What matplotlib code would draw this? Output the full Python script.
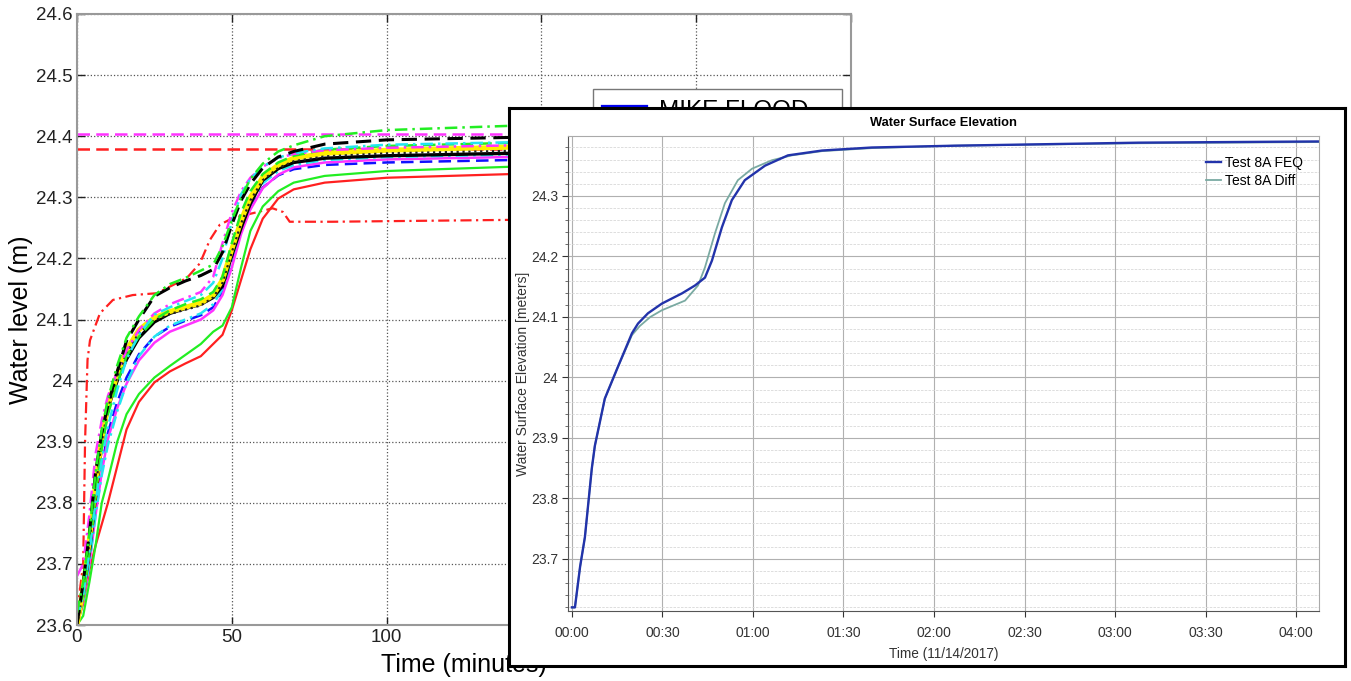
import matplotlib
matplotlib.use("Agg")
import matplotlib.pyplot as plt
from matplotlib.lines import Line2D
from matplotlib.ticker import MultipleLocator, FuncFormatter

plt.rcParams['font.family'] = ['Liberation Sans', 'DejaVu Sans']

# ---- main chart data (minutes, water level m) ----
t = [0, 2, 4, 6, 8, 10, 13, 16, 20, 25, 30, 35, 40, 44, 47, 50, 53, 56, 60, 65, 70, 80, 100, 140, 200, 250]

green_dd = [23.62, 23.67, 23.75, 23.85, 23.92, 23.97, 24.025, 24.07, 24.105, 24.14, 24.158, 24.168, 24.18, 24.19, 24.22, 24.262,
            24.30, 24.33, 24.355, 24.375, 24.385, 24.40, 24.41, 24.417, 24.42, 24.42]
black_dash = [23.60, 23.67, 23.75, 23.85, 23.915, 23.96, 24.015, 24.065, 24.10, 24.138, 24.152, 24.163, 24.172, 24.182, 24.21, 24.255,
              24.295, 24.322, 24.348, 24.366, 24.375, 24.387, 24.394, 24.398, 24.40, 24.401]
cyan_dd = [23.61, 23.65, 23.72, 23.80, 23.87, 23.925, 23.985, 24.035, 24.075, 24.108, 24.12, 24.13, 24.14, 24.16, 24.20, 24.26,
           24.305, 24.33, 24.35, 24.365, 24.372, 24.38, 24.386, 24.39, 24.391, 24.392]
green_dash = [23.61, 23.65, 23.72, 23.82, 23.89, 23.945, 23.995, 24.04, 24.072, 24.10, 24.115, 24.125, 24.133, 24.145, 24.17, 24.225,
              24.275, 24.31, 24.338, 24.357, 24.368, 24.378, 24.384, 24.389, 24.39, 24.39]
magenta_dd = [23.68, 23.70, 23.78, 23.88, 23.935, 23.975, 24.015, 24.05, 24.083, 24.11, 24.125, 24.135, 24.145, 24.17, 24.225, 24.275,
              24.31, 24.332, 24.35, 24.364, 24.371, 24.377, 24.381, 24.385, 24.386, 24.386]
yellow = [23.60, 23.66, 23.74, 23.83, 23.905, 23.96, 24.01, 24.05, 24.083, 24.103, 24.113, 24.12, 24.127, 24.14, 24.165, 24.215,
          24.262, 24.30, 24.333, 24.353, 24.364, 24.372, 24.377, 24.382, 24.383, 24.383]
black_dot = [23.60, 23.655, 23.735, 23.825, 23.90, 23.955, 24.005, 24.045, 24.078, 24.099, 24.109, 24.116, 24.123, 24.136, 24.16, 24.21,
             24.257, 24.295, 24.328, 24.348, 24.359, 24.367, 24.372, 24.376, 24.377, 24.377]
black_solid = [23.60, 23.65, 23.72, 23.81, 23.895, 23.955, 24.0, 24.035, 24.07, 24.096, 24.11, 24.118, 24.125, 24.136, 24.155, 24.205,
               24.25, 24.29, 24.328, 24.347, 24.357, 24.364, 24.368, 24.372, 24.374, 24.375]
cyan_dot = [23.60, 23.64, 23.70, 23.78, 23.845, 23.895, 23.95, 23.995, 24.04, 24.072, 24.09, 24.10, 24.11, 24.125, 24.15, 24.20,
            24.25, 24.29, 24.323, 24.343, 24.353, 24.361, 24.366, 24.37, 24.371, 24.371]
magenta_solid = [23.60, 23.64, 23.70, 23.78, 23.85, 23.905, 23.955, 23.995, 24.033, 24.062, 24.08, 24.09, 24.10, 24.115, 24.14, 24.185,
                 24.24, 24.28, 24.315, 24.337, 24.349, 24.357, 24.362, 24.366, 24.367, 24.367]
blue_dash = [23.61, 23.65, 23.71, 23.79, 23.86, 23.915, 23.965, 24.005, 24.043, 24.072, 24.088, 24.098, 24.107, 24.12, 24.145, 24.195,
             24.245, 24.283, 24.316, 24.336, 24.346, 24.353, 24.357, 24.361, 24.362, 24.362]
green_solid = [23.60, 23.615, 23.67, 23.73, 23.80, 23.838, 23.90, 23.945, 23.978, 24.005, 24.024, 24.042, 24.06, 24.08, 24.09, 24.12,
               24.185, 24.245, 24.285, 24.31, 24.324, 24.335, 24.343, 24.35, 24.351, 24.351]
red_solid = [23.60, 23.635, 23.69, 23.73, 23.765, 23.80, 23.86, 23.92, 23.965, 23.997, 24.015, 24.028, 24.04, 24.06, 24.075, 24.115,
             24.165, 24.215, 24.265, 24.298, 24.313, 24.324, 24.332, 24.338, 24.339, 24.339]

red_dd_t = [0, 1, 2, 2.6, 3.4, 4.2, 7.4, 11.6, 18, 25.8, 35.5, 39.7, 42.9, 46.1, 50.3, 56.8, 63.2, 66.5, 68.7, 82.6, 139, 250]
red_dd = [23.62, 23.66, 23.70, 23.90, 24.034, 24.066, 24.11, 24.132, 24.14, 24.143, 24.168, 24.192, 24.23, 24.255, 24.266,
          24.274, 24.282, 24.276, 24.26, 24.26, 24.263, 24.263]

magenta_ref = 24.404
red_ref = 24.379

# ---- inset data (minutes from 00:00, meters) ----
feq_t = [0, 1, 2.7, 4.3, 6.6, 7.6, 10.9, 15.2, 19.9, 21.9, 25.2, 29.8, 36.5, 40.8, 44.1, 46.4, 49.7, 53.0, 57.3, 64.0,
         71.6, 82.9, 99.4, 127, 188, 247.6]
feq_v = [23.62, 23.62, 23.687, 23.736, 23.85, 23.887, 23.965, 24.017, 24.073, 24.089, 24.106, 24.122, 24.139, 24.152,
         24.165, 24.193, 24.248, 24.293, 24.326, 24.350, 24.367, 24.375, 24.380, 24.383, 24.388, 24.390]
diff_t = [0, 1, 2.7, 4.3, 6.6, 7.6, 10.9, 15.2, 19.9, 22.5, 26, 29.8, 37.5, 41.8, 44.1, 47.4, 50.7, 55.0, 59.7, 66.3,
          72.9, 82.9, 99.4, 127, 188, 247.6]
diff_v = [23.62, 23.62, 23.687, 23.736, 23.85, 23.887, 23.965, 24.017, 24.07, 24.085, 24.1, 24.111, 24.127, 24.152,
          24.182, 24.238, 24.288, 24.326, 24.345, 24.359, 24.367, 24.374, 24.379, 24.383, 24.387, 24.389]

W, H = 1351, 681
fig = plt.figure(figsize=(W / 100, H / 100), dpi=100)

# ---- main MATLAB-style chart ----
ax = fig.add_axes([77 / W, 1 - 625 / H, 774 / W, 611 / H])
dash = (0, (5, 2.5))
dashdot = (0, (5, 2, 1, 2))
ax.axhline(magenta_ref, color='#ff33ff', lw=1.8, ls=dash)
ax.axhline(red_ref, color='#ff2020', lw=1.8, ls=dash)
ax.plot(red_dd_t, red_dd, color='#ff2020', lw=1.6, ls=dashdot)
ax.plot(t, red_solid, color='#ff2020', lw=1.6)
ax.plot(t, green_solid, color='#22ee22', lw=1.6)
ax.plot(t, blue_dash, color='#1010ff', lw=1.8, ls=dash)
ax.plot(t, magenta_solid, color='#ff33ff', lw=1.8)
ax.plot(t, cyan_dot, color='#22e5f0', lw=1.8, ls=dashdot)
ax.plot(t, black_solid, color='black', lw=2.4)
ax.plot(t, yellow, color='#ffee00', lw=3.6)
ax.plot(t, black_dot, color='#222222', lw=1.6, ls=':')
ax.plot(t, green_dash, color='#22ee22', lw=1.8, ls=dash)
ax.plot(t, magenta_dd, color='#ff33ff', lw=1.8, ls=dashdot)
ax.plot(t, cyan_dd, color='#22e5f0', lw=1.8, ls=dashdot)
ax.plot(t, black_dash, color='black', lw=2.2, ls=dash)
ax.plot(t, green_dd, color='#22ee22', lw=1.8, ls=dashdot)

ax.set_xlim(0, 250)
ax.set_ylim(23.6, 24.6)
ax.xaxis.set_major_locator(MultipleLocator(50))
ax.yaxis.set_major_locator(MultipleLocator(0.1))
ax.yaxis.set_major_formatter(FuncFormatter(lambda v, p: f"{round(v, 1):g}"))
ax.grid(True, ls=':', color='#555555', lw=0.9)
ax.tick_params(direction='in', top=True, right=True, length=6, width=1, labelsize=13.5, colors='#222222', pad=3)
for s in ax.spines.values():
    s.set_color('#999999')
    s.set_linewidth(1.5)
ax.set_xlabel('Time (minutes)', fontsize=18, labelpad=5)
ax.set_ylabel('Water level (m)', fontsize=18, labelpad=2)

leg_handle = Line2D([], [], color='#0000ee', lw=4.5)
ax.legend([leg_handle], ['MIKE FLOOD'], loc='upper left',
          bbox_to_anchor=(593 / W, 0.5, 249 / W, 1 - 89 / H - 0.5), mode='expand',
          bbox_transform=fig.transFigure, fontsize=17.5, fancybox=False, edgecolor='#777777',
          framealpha=1, handlelength=1.7, handletextpad=0.55, borderpad=0.45, borderaxespad=0)

# ---- inset: framed screenshot of second chart ----
box = fig.add_axes([509 / W, 1 - 666 / H, 836 / W, 558 / H], facecolor='white')
box.set_xticks([])
box.set_yticks([])
for s in box.spines.values():
    s.set_color('black')
    s.set_linewidth(2.2)

ins = fig.add_axes([568 / W, 1 - 611 / H, 751 / W, 475 / H], facecolor='white')
ins.plot(diff_t, diff_v, color='#7aaaa2', lw=1.3, label='Test 8A Diff')
ins.plot(feq_t, feq_v, color='#2233aa', lw=1.7, label='Test 8A FEQ')
ins.set_xlim(-1.3, 247.6)
ins.set_ylim(23.614, 24.399)
ins.xaxis.set_major_locator(MultipleLocator(30))
ins.xaxis.set_major_formatter(FuncFormatter(lambda m, p: f"{int(m // 60):02d}:{int(round(m % 60)):02d}"))
ins.yaxis.set_major_locator(MultipleLocator(0.1))
ins.yaxis.set_minor_locator(MultipleLocator(0.02))
ins.yaxis.set_major_formatter(FuncFormatter(lambda v, p: f"{round(v, 1):g}"))
ins.grid(True, which='major', color='#b0b0b0', lw=0.8)
ins.grid(True, which='minor', axis='y', color='#d8d8d8', lw=0.6, ls=(0, (3, 1.5)))
ins.tick_params(which='major', length=4, width=0.8, labelsize=10, colors='#333333', pad=7)
ins.tick_params(axis='y', which='major', pad=3)
ins.tick_params(which='minor', length=2.5, width=0.6, colors='#555555')
ins.spines['left'].set_color('#555555')
ins.spines['bottom'].set_color('#555555')
ins.spines['top'].set_color('#aaaaaa')
ins.spines['right'].set_color('#aaaaaa')
ins.set_title('Water Surface Elevation', fontsize=9.3, fontweight='bold', pad=7)
ins.set_xlabel('Time (11/14/2017)', fontsize=9.8, color='#333333', labelpad=5)
ins.set_ylabel('Water Surface Elevation [meters]', fontsize=10, color='#333333', labelpad=1)
h, l = ins.get_legend_handles_labels()
ins.legend(h[::-1], l[::-1], loc='upper right', bbox_to_anchor=(0.995, 0.985), frameon=False,
           fontsize=10, handlelength=1.1, handletextpad=0.25, labelspacing=0.3)

fig.savefig('out.png', dpi=100)
